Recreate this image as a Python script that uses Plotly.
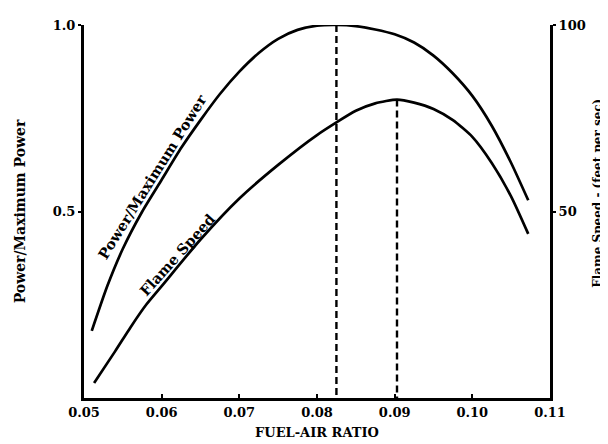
import plotly.graph_objects as go

# Data
fuel_air_power = [0.0510, 0.0530, 0.0550, 0.0575, 0.0600, 0.0625, 0.0650, 0.0675, 0.0700,
                  0.0725, 0.0750, 0.0775, 0.0800, 0.0825, 0.0850, 0.0875, 0.0900, 0.0925,
                  0.0950, 0.0975, 0.1000, 0.1025, 0.1050, 0.1072]
power_ratio = [0.18, 0.30, 0.40, 0.50, 0.585, 0.67, 0.745, 0.815, 0.875,
               0.925, 0.963, 0.987, 0.998, 1.00, 0.997, 0.988, 0.975, 0.953,
               0.918, 0.87, 0.81, 0.73, 0.63, 0.53]

fuel_air_flame = [0.0513, 0.0540, 0.0560, 0.0580, 0.0600, 0.0650, 0.0700, 0.0750, 0.0800,
                  0.0850, 0.0875, 0.0903, 0.0925, 0.0950, 0.0975, 0.1000, 0.1025, 0.1050,
                  0.1072]
flame_speed = [4.0, 12.5, 19.0, 25.0, 30.0, 42.5, 53.5, 62.5, 70.5,
               77.0, 79.0, 80.0, 79.2, 77.5, 74.5, 70.0, 63.0, 54.0,
               44.0]

peak_power_x = 0.0825
peak_power_y = 1.0
peak_flame_x = 0.0903
peak_flame_y = 80.0

x_tickvals = [0.05, 0.06, 0.07, 0.08, 0.09, 0.10, 0.11]
x_ticktext = ["0.05", "0.06", "0.07", "0.08", "0.09", "0.10", "0.11"]
left_tickvals = [0.5, 1.0]
left_ticktext = ["0.5", "1.0"]
right_tickvals = [50, 100]
right_ticktext = ["50", "100"]

FONT = "DejaVu Serif"

fig = go.Figure()
fig.add_trace(go.Scatter(x=fuel_air_power, y=power_ratio, mode="lines",
                         line=dict(color="black", width=2.7, shape="spline", smoothing=0.6),
                         showlegend=False, hoverinfo="skip"))
fig.add_trace(go.Scatter(x=fuel_air_flame, y=flame_speed, mode="lines", yaxis="y2",
                         line=dict(color="black", width=2.7, shape="spline", smoothing=0.6),
                         showlegend=False, hoverinfo="skip"))
# dashed drop lines from the peaks
fig.add_trace(go.Scatter(x=[peak_power_x, peak_power_x], y=[peak_power_y, 0], mode="lines",
                         line=dict(color="black", width=2.4, dash="7px,4px"),
                         showlegend=False, hoverinfo="skip"))
fig.add_trace(go.Scatter(x=[peak_flame_x, peak_flame_x], y=[peak_flame_y, 0], mode="lines",
                         yaxis="y2",
                         line=dict(color="black", width=2.4, dash="7px,4px"),
                         showlegend=False, hoverinfo="skip"))

tick_font = dict(family=FONT, size=13, weight="bold", color="black")

fig.update_layout(
    width=608, height=444,
    margin=dict(l=76, r=66, t=17, b=54),
    paper_bgcolor="white", plot_bgcolor="white",
    font=dict(family=FONT, color="black"),
    xaxis=dict(range=[0.05, 0.11], tickvals=x_tickvals, ticktext=x_ticktext,
               showgrid=False, zeroline=False, showline=True, linecolor="black", linewidth=3,
               ticks="inside", ticklen=4, tickwidth=2, tickcolor="black",
               tickfont=tick_font, automargin=False,
               title=dict(text="FUEL-AIR RATIO",
                          font=dict(family=FONT, size=13, weight="bold"), standoff=10)),
    yaxis=dict(range=[0, 1.0], tickvals=left_tickvals, ticktext=left_ticktext,
               showgrid=False, zeroline=False, showline=True, linecolor="black", linewidth=3,
               ticks="outside", ticklen=3, tickwidth=2, tickcolor="black",
               tickfont=tick_font, automargin=False,
               title=dict(text="Power/Maximum Power",
                          font=dict(family=FONT, size=14, weight="bold"), standoff=24)),
    yaxis2=dict(range=[0, 100], tickvals=right_tickvals, ticktext=right_ticktext,
                overlaying="y", side="right",
                showgrid=False, zeroline=False, showline=True, linecolor="black", linewidth=3,
                ticks="outside", ticklen=3, tickwidth=2, tickcolor="black",
                tickfont=tick_font, automargin=False),
    annotations=[
        dict(x=0.0588, y=0.593, xref="x", yref="y", text="Power/Maximum Power",
             showarrow=False, textangle=-58,
             font=dict(family=FONT, size=14.5, weight="bold", color="black")),
        dict(x=0.0620, y=0.385, xref="x", yref="y", text="Flame Speed",
             showarrow=False, textangle=-48,
             font=dict(family=FONT, size=14.5, weight="bold", color="black")),
        dict(x=1.103, y=0.55, xref="paper", yref="paper",
             text="Flame Speed - (feet per sec)", showarrow=False, textangle=-90,
             xanchor="center", yanchor="middle",
             font=dict(family=FONT, size=12, weight="bold", color="black")),
    ],
)

fig.write_html("out.html")
